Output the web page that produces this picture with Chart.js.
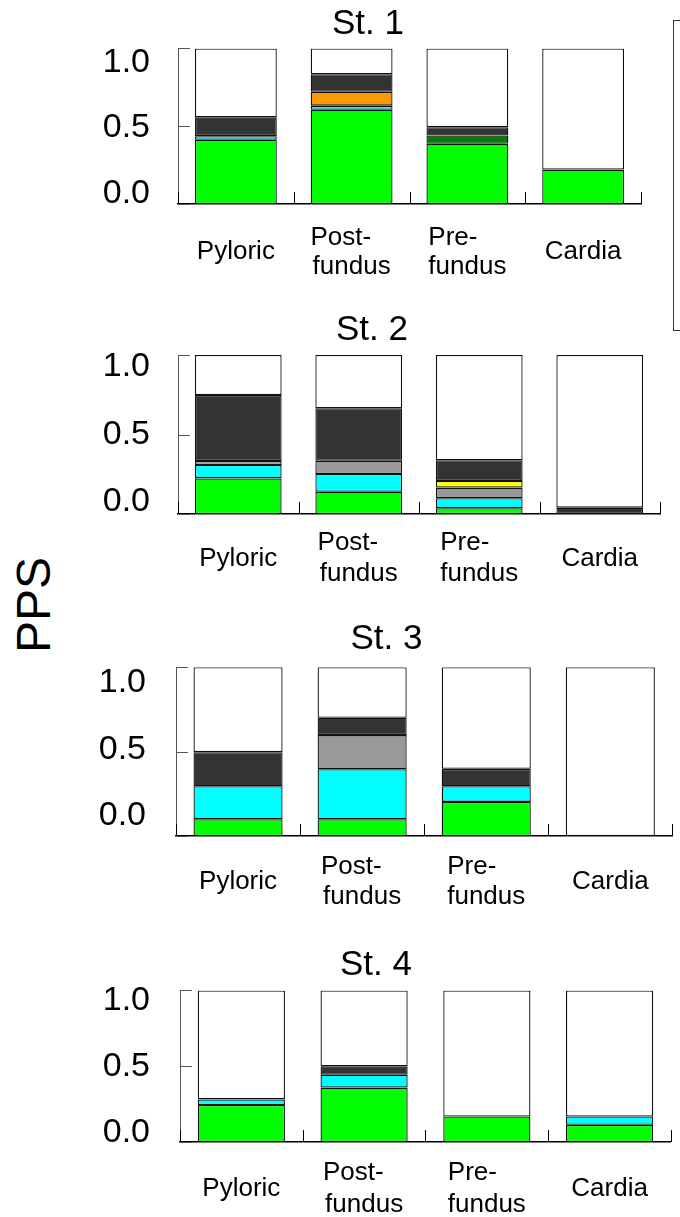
<!DOCTYPE html>
<html>
<head>
<meta charset="utf-8">
<script src="https://cdn.jsdelivr.net/npm/chart.js@4.4.1/dist/chart.umd.min.js"></script>
<style>
  html, body { margin: 0; padding: 0; background: #fff; }
  body { width: 680px; height: 1217px; position: relative; overflow: hidden; font-family: "Liberation Sans", Arial, sans-serif; }
  canvas { position: absolute; left: 0; }
  #ytitle { position: absolute; left: 33px; top: 605px; transform: translate(-50%, -50%) rotate(-90deg); font-size: 48px; color: #000; white-space: nowrap; }
  #legendBox { position: absolute; left: 673px; top: 20px; width: 30px; height: 309px; border: 1.5px solid #333; }
</style>
</head>
<body>
<div id="ytitle">PPS</div>
<div id="legendBox"></div>
<canvas id="st1"></canvas>
<canvas id="st2"></canvas>
<canvas id="st3"></canvas>
<canvas id="st4"></canvas>
<script>
// ---- data (one row per station: St. 1 .. St. 4) ----
const stations = ['St. 1', 'St. 2', 'St. 3', 'St. 4'];
const categories = ['Pyloric', ['Post-   ', 'fundus'], ['Pre-    ', 'fundus'], 'Cardia'];
const yTicks = [0, 0.5, 1.0];

const green  = [[0.413, 0.606, 0.387, 0.221], [0.224, 0.140, 0.036, 0], [0.099, 0.099, 0.202, 0], [0.244, 0.359, 0.168, 0.113]];
const cyan   = [[0.023, 0.026, 0, 0], [0.084, 0.112, 0.063, 0], [0.196, 0.297, 0.093, 0], [0.037, 0.085, 0, 0.055]];
const grey   = [[0, 0, 0, 0], [0.025, 0.083, 0.067, 0], [0, 0.202, 0, 0], [0, 0, 0, 0]];
const yellow = [[0, 0, 0, 0], [0, 0, 0.042, 0], [0, 0, 0, 0], [0, 0, 0, 0]];
const orange = [[0, 0.089, 0, 0], [0, 0, 0, 0], [0, 0, 0, 0], [0, 0, 0, 0]];
const dkgreen = [[0, 0, 0.053, 0], [0, 0, 0, 0], [0, 0, 0, 0], [0, 0, 0, 0]];
const dark   = [[0.121, 0.113, 0.054, 0], [0.415, 0.330, 0.130, 0.040], [0.202, 0.103, 0.103, 0], [0, 0.055, 0, 0]];
const white  = [[0.443, 0.166, 0.506, 0.779], [0.252, 0.335, 0.662, 0.960], [0.503, 0.299, 0.602, 1.0], [0.719, 0.501, 0.832, 0.832]];

const series = [
  {data: green, color: '#00ff00'},
  {data: cyan, color: '#00ffff'},
  {data: grey, color: '#999999'},
  {data: yellow, color: '#ffff00'},
  {data: orange, color: '#ff9900'},
  {data: dkgreen, color: '#008000'},
  {data: dark, color: '#333333'},
  {data: white, color: '#ffffff'}
];

// ---- layout of each panel (pixels on the page) ----
// plot box top/bottom, where the "1.0"/"0.0" labels sit (they are squeezed inward in the original)
const panels = [
  {top: 0,   height: 299, padL: 95, padR: 39, left: 178, plotTop: 47.7,  plotBot: 204,   lblTop: 61.7, lblBot: 193.5, labelRight: 150, xPad: 34, xLH: 1.1,  bar: 0.707},
  {top: 306, height: 303, padL: 84, padR: 20, left: 178, plotTop: 355,   plotBot: 514,   lblTop: 367,  lblBot: 502,   labelRight: 150, xPad: 29, xLH: 1.2,  bar: 0.72},
  {top: 615, height: 316, padL: 96, padR: 3,  left: 176, plotTop: 667.3, plotBot: 836,   lblTop: 682.5, lblBot: 816,  labelRight: 146, xPad: 31, xLH: 1.15, bar: 0.718},
  {top: 940, height: 297, padL: 81, padR: 9,  left: 180, plotTop: 989.3, plotBot: 1142,  lblTop: 1000, lblBot: 1133,  labelRight: 150, xPad: 31, xLH: 1.23, bar: 0.71}
];

const FONT = '"Liberation Sans", Arial, sans-serif';

// short inward ticks on both axes, like the original plot
const innerTicks = {
  id: 'innerTicks',
  afterDraw(chart) {
    const {ctx, chartArea} = chart;
    const x = chart.scales.x, y = chart.scales.y;
    ctx.save();
    ctx.lineWidth = 1;
    ctx.strokeStyle = '#555';
    ctx.beginPath();
    yTicks.forEach(v => {
      const py = Math.round(y.getPixelForValue(v)) + 0.5;
      ctx.moveTo(chartArea.left, py);
      ctx.lineTo(chartArea.left + 12, py);
    });
    ctx.stroke();
    ctx.strokeStyle = '#000';
    ctx.beginPath();
    for (let i = 0; i <= categories.length; i++) {
      const px = Math.round(x.getPixelForValue(i - 0.5)) + 0.5;
      ctx.moveTo(px, chartArea.bottom);
      ctx.lineTo(px, chartArea.bottom - 12);
    }
    ctx.stroke();
    ctx.restore();
  }
};

stations.forEach((name, s) => {
  const p = panels[s];
  const cv = document.getElementById('st' + (s + 1));
  cv.width = 680;
  cv.height = p.height;
  cv.style.top = p.top + 'px';

  // title box: 3px top pad + 42px line, then gap down to the plot box
  const titleB = (p.plotTop - p.top) - 45;
  // label axis range so its 0/1 land where the original printed them
  const unit = p.lblBot - p.lblTop;
  const lblMin = -(p.plotBot - p.lblBot) / unit;
  const lblMax = 1 + (p.lblTop - p.plotTop) / unit;

  const datasets = series.map(ser => ({
    data: ser.data[s],
    backgroundColor: ser.color,
    borderColor: '#111',
    borderWidth: 1.3,
    borderSkipped: false,
    categoryPercentage: 1,
    barPercentage: p.bar
  }));

  new Chart(cv, {
    type: 'bar',
    data: {labels: categories, datasets: datasets},
    options: {
      responsive: false,
      animation: false,
      devicePixelRatio: 1,
      layout: {padding: {left: p.padL, right: p.padR, top: 0, bottom: 0}},
      plugins: {
        legend: {display: false},
        tooltip: {enabled: false},
        title: {
          display: true,
          text: name,
          color: '#000',
          font: {family: FONT, size: 35, weight: 'normal', lineHeight: 1.2},
          padding: {top: 3, bottom: titleB}
        }
      },
      scales: {
        x: {
          stacked: true,
          grid: {display: true, drawOnChartArea: false, drawTicks: false},
          border: {display: true, color: '#000', width: 1.5},
          ticks: {
            color: '#000',
            font: {family: FONT, size: 26, lineHeight: p.xLH},
            padding: p.xPad,
            crossAlign: 'center',
            maxRotation: 0,
            autoSkip: false
          },
          afterFit: sc => { sc.height = p.height - (p.plotBot - p.top); }
        },
        y: {
          stacked: true,
          position: 'left',
          weight: 0,
          min: 0,
          max: 1,
          afterBuildTicks: sc => { sc.ticks = yTicks.map(v => ({value: v})); },
          grid: {display: false},
          border: {display: true, color: '#555', width: 1},
          ticks: {display: false},
          afterFit: sc => { sc.width = 0; }
        },
        yl: {
          type: 'linear',
          position: 'left',
          weight: 1,
          min: lblMin,
          max: lblMax,
          afterBuildTicks: sc => { sc.ticks = yTicks.map(v => ({value: v})); },
          grid: {display: false, drawTicks: false},
          border: {display: false},
          ticks: {
            color: '#000',
            font: {family: FONT, size: 34},
            padding: p.left - p.labelRight,
            callback: v => v.toFixed(1)
          },
          afterFit: sc => { sc.width = p.left - p.padL; }
        }
      }
    },
    plugins: [innerTicks]
  });
});
</script>
</body>
</html>
